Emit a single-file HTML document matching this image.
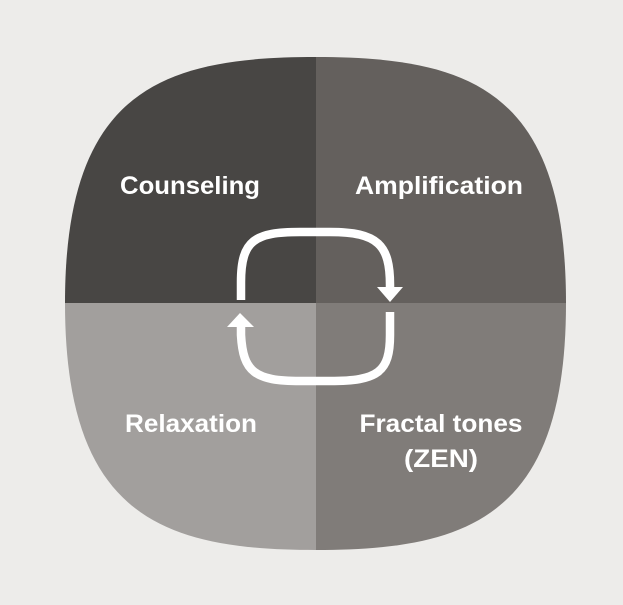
<!DOCTYPE html>
<html><head><style>
html,body{margin:0;padding:0;background:#edecea;}
svg{display:block;}
text{font-family:"Liberation Sans",sans-serif;font-weight:bold;fill:#fff;font-size:25px;}
</style></head><body>
<svg width="623" height="605" viewBox="0 0 623 605">
<defs>
<clipPath id="c">
<path d="M316 57 C470 57 566 90 566 303 C566 516 470 550 316 550 C162 550 65 516 65 303 C65 90 162 57 316 57 Z"/>
</clipPath>
</defs>
<rect width="623" height="605" fill="#edecea"/>
<g clip-path="url(#c)">
<rect x="0" y="0" width="316" height="303" fill="#484644"/>
<rect x="316" y="0" width="320" height="303" fill="#64605d"/>
<rect x="0" y="303" width="316" height="310" fill="#a29f9d"/>
<rect x="316" y="303" width="320" height="310" fill="#807c79"/>
</g>
<g fill="none" stroke="#fff" stroke-width="8.5">
<path d="M241 300 L241 282 C241 240 255 232 300 232 L330 232 C378 232 390 245 390 285 L390 290"/>
<path d="M390 312 L390 335 C390 372 378 381 330 381 L300 381 C255 381 243 372 241 335 L241 325"/>
</g>
<polygon points="377,287 403,287 390,302" fill="#fff"/>
<polygon points="227,327 254,327 240,313" fill="#fff"/>
<text x="190" y="194" text-anchor="middle" textLength="140" lengthAdjust="spacingAndGlyphs">Counseling</text>
<text x="439" y="194" text-anchor="middle" textLength="168" lengthAdjust="spacingAndGlyphs">Amplification</text>
<text x="191" y="432" text-anchor="middle" textLength="132" lengthAdjust="spacingAndGlyphs">Relaxation</text>
<text x="441" y="432" text-anchor="middle" textLength="163" lengthAdjust="spacingAndGlyphs">Fractal tones</text>
<text x="441" y="467" text-anchor="middle" textLength="74" lengthAdjust="spacingAndGlyphs">(ZEN)</text>
</svg>
</body></html>
